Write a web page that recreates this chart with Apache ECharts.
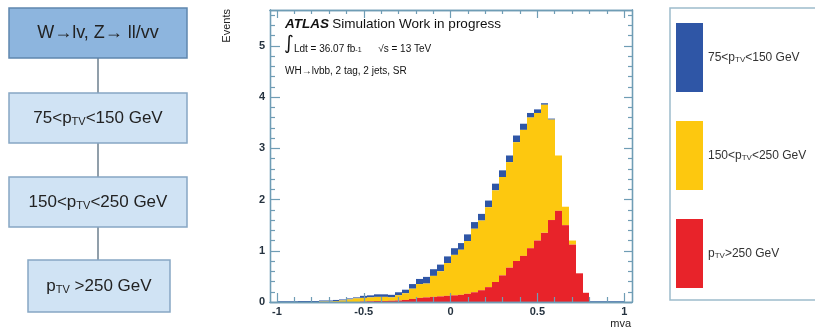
<!DOCTYPE html>
<html><head><meta charset="utf-8">
<script src="https://cdn.jsdelivr.net/npm/echarts@6/dist/echarts.min.js"></script>
<style>html,body{margin:0;padding:0;background:#fff}#c{width:815px;height:330px}</style>
</head><body><div id="c"></div>
<script>
// ---- data ----
const binStart = -1, binWidth = 0.04;   // histogram binning in mva
const redVals = [0,0,0,0,0,0,0,0,0,0, 0,0,0.01,0.015,0.02,0.02,0.025,0.03,0.04,0.06,
  0.08,0.09,0.10,0.11,0.12,0.13,0.14,0.16,0.19,0.23, 0.29,0.39,0.52,0.67,0.80,0.90,1.05,1.20,1.35,1.60,
  1.78,1.50,1.12,0.56,0.18,0,0,0,0,0];
const yellowVals = [0,0,0,0,0,0,0.01,0.01,0.02,0.03, 0.05,0.07,0.07,0.075,0.08,0.08,0.065,0.10,0.13,0.20,
  0.27,0.27,0.41,0.49,0.64,0.79,0.88,1.03,1.24,1.36, 1.56,1.79,1.92,2.06,2.32,2.46,2.55,2.49,2.50,1.96,
  1.08,0.36,0.08,0,0,0,0,0,0,0];
const blueVals = [0.015,0.015,0.015,0.02,0.02,0.02,0.02,0.02,0.02,0.02, 0.02,0.02,0.04,0.04,0.05,0.05,0.05,0.06,0.07,0.09,
  0.10,0.13,0.13,0.13,0.13,0.13,0.13,0.13,0.13,0.13, 0.13,0.13,0.13,0.13,0.13,0.12,0.09,0.07,0.03,0.02,
  0,0,0,0,0,0.015,0.015,0.015,0.015,0.015];
const seriesNames = ['75<pTV<150 GeV', '150<pTV<250 GeV', 'pTV>250 GeV'];
const legendRich = ['75<p{s|TV}<150 GeV', '150<p{s|TV}<250 GeV', 'p{s|TV}>250 GeV'];
const xMajorTicks = [-1, -0.5, 0, 0.5, 1];
const xMinorTicks = [-0.9,-0.8,-0.7,-0.6,-0.4,-0.3,-0.2,-0.1,0.1,0.2,0.3,0.4,0.6,0.7,0.8,0.9];
const yMajorTicks = [0, 1, 2, 3, 4, 5];
const yMinorTicks = [0.2,0.4,0.6,0.8,1.2,1.4,1.6,1.8,2.2,2.4,2.6,2.8,3.2,3.4,3.6,3.8,4.2,4.4,4.6,4.8,5.2,5.4,5.6];
const flowTexts = ['{h|W→lv, Z→ ll/vv}', '{a|75<p}{s|TV}{a|<150 GeV}', '{a|150<p}{s|TV}{a|<250 GeV}', '{a|p}{s|TV}{a| >250 GeV}'];

// ---- build ----
const colors = ['#2f56a6', '#fdc80f', '#e8232a'];
function layer(vals, below) {
  return vals.map((v, i) => {
    const b = below.reduce((s, arr) => s + arr[i], 0);
    return [binStart + i * binWidth, binStart + (i + 1) * binWidth, b, b + v];
  });
}
const layers = [
  layer(blueVals, [redVals, yellowVals]),
  layer(yellowVals, [redVals]),
  layer(redVals, [])
];
function renderItem(params, api) {
  const p0 = api.coord([api.value(0), api.value(3)]);
  const p1 = api.coord([api.value(1), api.value(2)]);
  const x0 = Math.round(p0[0]), x1 = Math.round(p1[0]);
  return { type: 'rect', shape: { x: x0, y: p0[1], width: x1 - x0, height: p1[1] - p0[1] },
    style: { fill: api.visual('color') } };
}
const axCol = '#6f9db5';
const font = 'Liberation Sans, Arial, sans-serif';
const XMIN = -1.04, XMAX = 1.045, YMIN = 0, YMAX = 5.7;
function xAx(pos, vals, len, labels) {
  return { type: 'value', min: XMIN, max: XMAX, position: pos, z: 5,
    axisLine: { show: true, onZero: false, lineStyle: { color: axCol, width: 1.3 } },
    axisTick: { show: true, inside: true, length: len, customValues: vals, lineStyle: { color: axCol, width: 1.2 } },
    axisLabel: labels ? { customValues: vals, color: '#25323f', fontSize: 11, fontWeight: 'bold', fontFamily: font, margin: 4 } : { show: false },
    splitLine: { show: false } };
}
function yAx(pos, vals, len, labels) {
  return { type: 'value', min: YMIN, max: YMAX, position: pos, z: 5,
    axisLine: { show: true, onZero: false, lineStyle: { color: axCol, width: 1.3 } },
    axisTick: { show: true, inside: true, length: len, customValues: vals, lineStyle: { color: axCol, width: 1.2 } },
    axisLabel: labels ? { customValues: vals, color: '#25323f', fontSize: 11, fontWeight: 'bold', fontFamily: font, margin: 5 } : { show: false },
    splitLine: { show: false } };
}

const graphic = [];
// flowchart
const boxes = [
  { x: 9, y: 8, w: 178, h: 50, fill: '#8db5de', stroke: '#5f87ae' },
  { x: 9, y: 93, w: 178, h: 50, fill: '#d0e3f4', stroke: '#86a7c4' },
  { x: 9, y: 177, w: 178, h: 50, fill: '#d0e3f4', stroke: '#86a7c4' },
  { x: 28, y: 260, w: 142, h: 52, fill: '#d0e3f4', stroke: '#86a7c4' }
];
const flowRich = {
  h: { fontSize: 18, fontFamily: font, fill: '#222' },
  a: { fontSize: 17, fontFamily: font, fill: '#222', lineHeight: 26, verticalAlign: 'bottom' },
  s: { fontSize: 11, fontFamily: font, fill: '#222', lineHeight: 4, verticalAlign: 'bottom' }
};
for (let i = 0; i < 3; i++) {
  graphic.push({ type: 'line', shape: { x1: 98, y1: boxes[i].y + boxes[i].h, x2: 98, y2: boxes[i + 1].y },
    style: { stroke: '#6d7f8e', lineWidth: 1.5 } });
}
boxes.forEach((b, i) => {
  graphic.push({ type: 'rect', shape: { x: b.x, y: b.y, width: b.w, height: b.h },
    style: { fill: b.fill, stroke: b.stroke, lineWidth: 1.5 } });
  graphic.push({ type: 'text', x: b.x + b.w / 2, y: b.y + b.h / 2 + (i ? -4 : 0),
    style: { text: flowTexts[i], fill: '#222', font: '17px ' + font, align: 'center', verticalAlign: 'middle', rich: flowRich } });
});
// legend frame
graphic.push({ type: 'rect', shape: { x: 670, y: 8, width: 150, height: 292 },
  style: { fill: 'none', stroke: '#9dbccc', lineWidth: 1.5 } });
// plot annotations
graphic.push({ type: 'text', x: 285, y: 24, style: {
  text: '{b|ATLAS} {n|Simulation Work in progress}', verticalAlign: 'middle',
  rich: { b: { font: 'italic bold 13.5px ' + font, fill: '#111' }, n: { font: '13.5px ' + font, fill: '#111' } } } });
graphic.push({ type: 'text', x: 284, y: 43, style: {
  text: '{i|∫}{n|Ldt = 36.07 fb}{p|-1}{n|      √s = 13 TeV}', verticalAlign: 'middle',
  rich: { i: { font: '19px DejaVu Sans', fill: '#111', lineHeight: 22, verticalAlign: 'bottom' },
          n: { font: '10px ' + font, fill: '#111', lineHeight: 10, verticalAlign: 'bottom' },
          p: { font: '7px ' + font, fill: '#111', lineHeight: 22, verticalAlign: 'bottom' } } } });
graphic.push({ type: 'text', x: 285, y: 71, style: { text: 'WH→lvbb, 2 tag, 2 jets, SR', font: '10px ' + font, fill: '#111', verticalAlign: 'middle' } });
graphic.push({ type: 'text', x: 227, y: 9, rotation: Math.PI / 2, style: { text: 'Events', font: '11px ' + font, fill: '#222', align: 'right', verticalAlign: 'middle' } });
graphic.push({ type: 'text', x: 631, y: 324, style: { text: 'mva', font: '11px ' + font, fill: '#222', align: 'right', verticalAlign: 'middle' } });

const option = {
  animation: false,
  backgroundColor: '#fff',
  grid: { left: 270, right: 183, top: 10, bottom: 28, containLabel: false },
  xAxis: [ xAx('bottom', xMajorTicks, 9, true), xAx('bottom', xMinorTicks, 5, false),
           xAx('top', xMajorTicks, 8, false), xAx('top', xMinorTicks, 4, false) ],
  yAxis: [ yAx('left', yMajorTicks, 10, true), yAx('left', yMinorTicks, 5, false),
           yAx('right', yMajorTicks, 8, false), yAx('right', yMinorTicks, 4, false) ],
  legend: {
    orient: 'vertical', left: 676, top: 23, itemWidth: 27, itemHeight: 69, itemGap: 29, icon: 'rect', padding: 0,
    selectedMode: false, data: seriesNames,
    formatter: name => legendRich[seriesNames.indexOf(name)],
    textStyle: { fontSize: 12, color: '#333', fontFamily: font,
      rich: { s: { fontSize: 8, color: '#333', lineHeight: 2, verticalAlign: 'bottom', fontFamily: font } } }
  },
  series: seriesNames.map((n, k) => ({
    name: n, type: 'custom', renderItem, xAxisIndex: 0, yAxisIndex: 0,
    itemStyle: { color: colors[k] }, encode: { x: [0, 1], y: [2, 3] }, data: layers[k], z: 2
  })),
  graphic
};
const chart = echarts.init(document.getElementById('c'), null, { renderer: 'canvas' });
chart.setOption(option);
</script></body></html>
